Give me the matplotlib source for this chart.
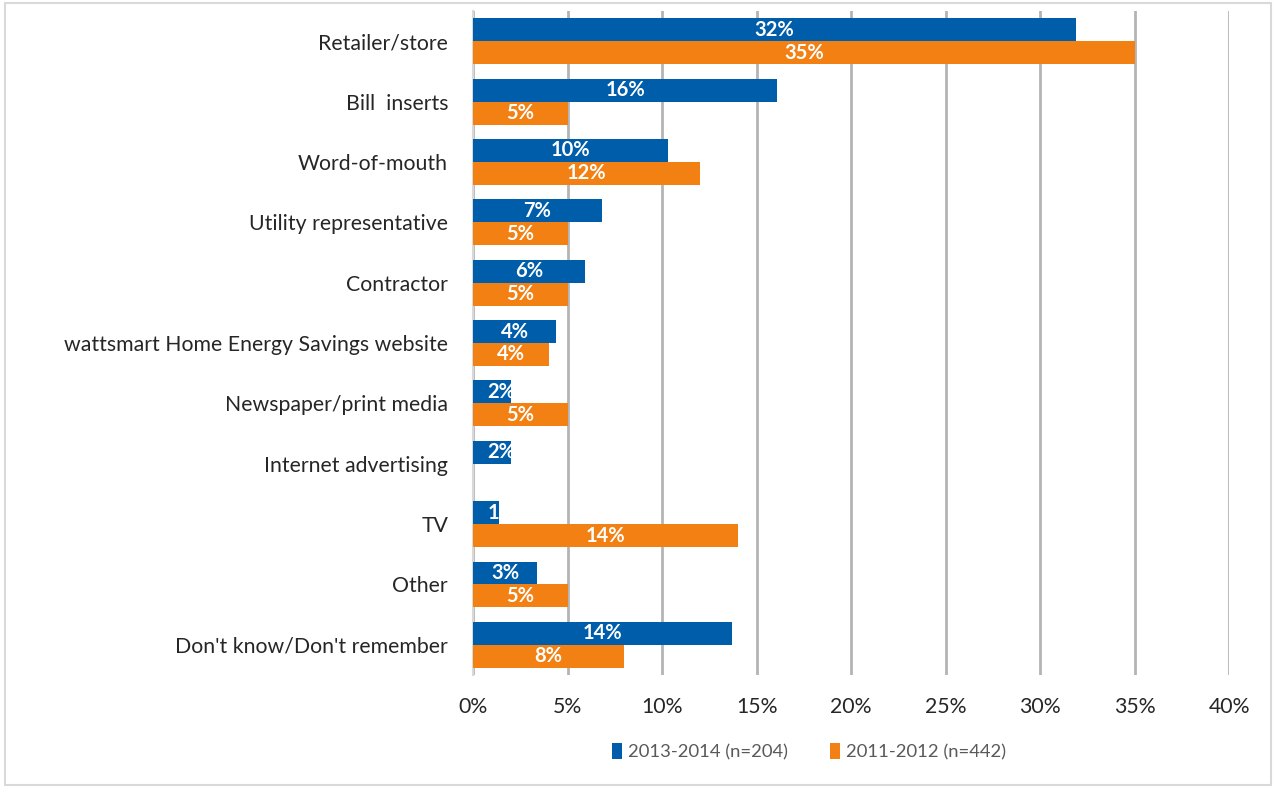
import matplotlib.pyplot as plt
from matplotlib.patches import Rectangle

plt.rcParams['font.family'] = ['Lato', 'DejaVu Sans']

# categories, top to bottom
fuentes = ['Retailer/store', 'Bill  inserts', 'Word-of-mouth', 'Utility representative',
           'Contractor', 'wattsmart Home Energy Savings website', 'Newspaper/print media',
           'Internet advertising', 'TV', 'Other', "Don't know/Don't remember"]

# % of respondents per period
pct_2013 = [31.9, 16.1, 10.3, 6.8, 5.9, 4.4, 2.0, 2.0, 1.4, 3.4, 13.7]
pct_2011 = [35.0, 5.0, 12.0, 5.0, 5.0, 4.0, 5.0, None, 14.0, 5.0, 8.0]

serie_2013 = '2013-2014 (n=204)'
serie_2011 = '2011-2012 (n=442)'
azul = '#005DAA'
naranja = '#F28013'

fig = plt.figure(figsize=(12.75, 7.87), dpi=100)
ax = fig.add_axes([0.371, 0.1423, 0.593, 0.8437])

n = len(fuentes)
pos = list(range(n))
alto = 0.38


def etiquetar(barras, valores):
    for b, v in zip(barras, valores):
        if v is None:
            continue
        txt = f'{v:.0f}%'
        if v > 3:
            t = ax.text(v / 2, b.get_y() + b.get_height() / 2, txt, ha='center', va='center',
                        color='white', fontsize=14.5, fontweight='bold')
        else:
            t = ax.text(0.75, b.get_y() + b.get_height() / 2, txt, ha='left', va='center',
                        color='white', fontsize=14.5, fontweight='bold')
        t.set_clip_path(b)


b1 = ax.barh([p - alto / 2 for p in pos], pct_2013, height=alto, color=azul, label=serie_2013, zorder=3)
vals_2011 = [v if v is not None else 0 for v in pct_2011]
b2 = ax.barh([p + alto / 2 for p in pos], vals_2011, height=alto, color=naranja, label=serie_2011, zorder=3)
etiquetar(b1, pct_2013)
etiquetar(b2, pct_2011)

ax.set_xlim(0, 40)
ax.set_ylim(n - 0.5, -0.5)
ax.set_xticks(range(0, 41, 5))
ax.set_xticklabels([f'{x}%' for x in range(0, 41, 5)])
ax.set_yticks(pos)
ax.set_yticklabels(fuentes)
ax.tick_params(axis='both', length=0, labelsize=15.3, colors='#262626')
ax.tick_params(axis='y', pad=18)
ax.tick_params(axis='x', pad=16)

ax.grid(axis='x', color='#B4B4B4', linewidth=2, zorder=0)
for lado in ['top', 'right', 'bottom']:
    ax.spines[lado].set_visible(False)
ax.spines['left'].set_color('#D9D9D9')
ax.spines['left'].set_linewidth(1.5)

fig.legend(handles=[b1, b2], labels=[serie_2013, serie_2011], loc='center',
           bbox_to_anchor=(0.6345, 0.0445), ncol=2, frameon=False,
           fontsize=13.3, handlelength=0.55, handleheight=0.9, handletextpad=0.3,
           columnspacing=2.3, labelcolor='#595959')

# borde de la figura
fig.patches.append(Rectangle((0.004, 0.003), 0.993, 0.993, transform=fig.transFigure,
                             fill=False, edgecolor='#D9D9D9', linewidth=1.5))

fig.savefig('out.png', dpi=100)
